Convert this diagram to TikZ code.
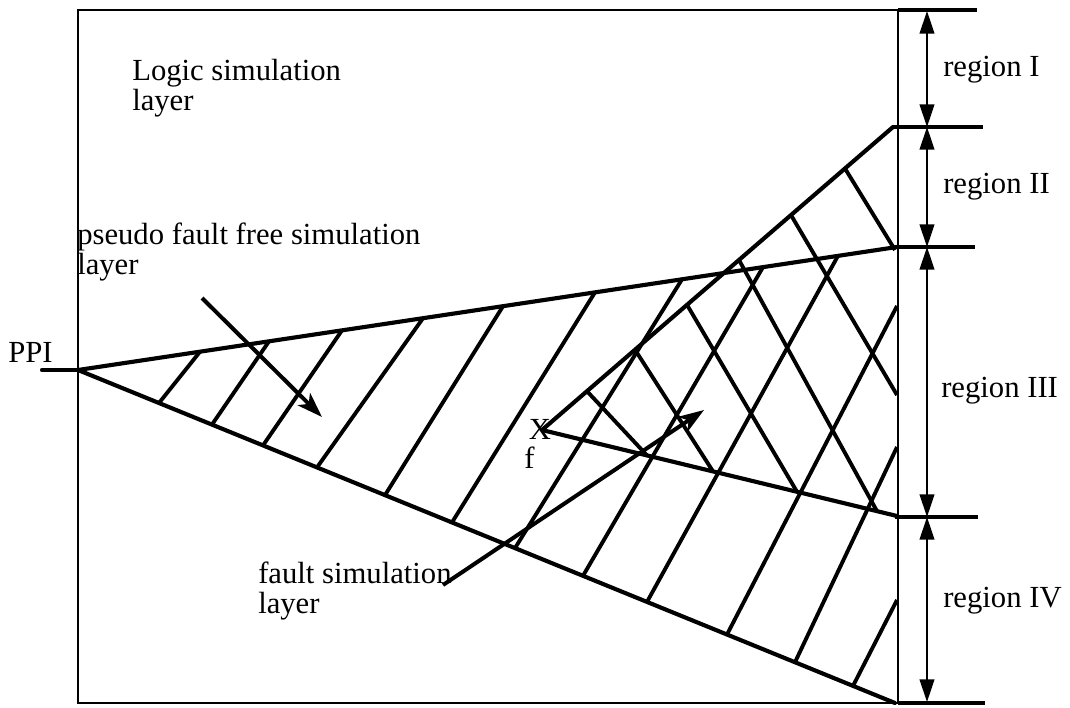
\documentclass[tikz,border=0pt]{standalone}
\usepackage{fontspec}
\setmainfont{Liberation Serif}
\usetikzlibrary{arrows.meta}
\begin{document}
\begin{tikzpicture}[x=0.75pt,y=-0.75pt,
  frame/.style={line width=1.8pt},
  edge/.style={line width=3.1pt, line cap=round, line join=round},
  hatch/.style={line width=2.9pt},
  tickline/.style={line width=3pt},
  dimarrow/.style={line width=1.5pt, {Triangle[length=17pt,width=11pt]}-{Triangle[length=17pt,width=11pt]}},
  pointer/.style={line width=3pt, -{Stealth[length=19pt,width=13pt,inset=5pt]}},
  lbl/.style={font=\fontsize{23pt}{22pt}\selectfont, inner sep=0pt, align=left, anchor=base west}]
\useasboundingbox (0,0) rectangle (1070,707);

% frame
\coordinate (TL) at (78,10);
\coordinate (BL) at (78,703);
\coordinate (TR) at (898,10);
\coordinate (BR) at (898,703);
\coordinate (TT) at (977,10);
\coordinate (BT) at (985,703);
\draw[frame] (TT) -- (TL) -- (BL) -- (BT);
\draw[frame, line width=2.2pt] (TR) -- (BR);

% ticks
\coordinate (t2a) at (893,127); \coordinate (t2b) at (983,127);
\coordinate (t3a) at (890,247); \coordinate (t3b) at (975,247);
\coordinate (t4a) at (895,517); \coordinate (t4b) at (978,517);
\draw[tickline] (t2a) -- (t2b);
\draw[tickline] (t3a) -- (t3b);
\draw[tickline] (t4a) -- (t4b);
\draw[tickline] (898,10) -- (TT);
\draw[tickline] (898,703) -- (BT);

% dimension arrows
\coordinate (d1) at (927,11);
\coordinate (d2) at (927,127);
\coordinate (d3) at (927,247);
\coordinate (d4) at (927,517);
\coordinate (d5) at (927,702);
\draw[dimarrow] (d1) -- (d2);
\draw[dimarrow] (d2) -- (d3);
\draw[dimarrow] (d3) -- (d4);
\draw[dimarrow] (d4) -- (d5);

% main triangle
\coordinate (P) at (78,370);
\coordinate (PPIin) at (42,370);
\coordinate (U) at (897,247);
\coordinate (L) at (895,703);
\draw[edge] (PPIin) -- (P);
\draw[edge] (U) -- (P) -- (L);

% fault triangle
\coordinate (XF) at (542,430);
\coordinate (FU) at (893,127);
\coordinate (FL) at (897,516);
\draw[edge] (FU) -- (XF) -- (FL);

% hatching /
\foreach \a/\b/\c/\d in {159/403.0/200/351.7, 212/424.6/269/341.3, 263/445.4/342/330.3,
  317/467.4/423/318.2, 385/495.1/503/306.2, 452/522.4/595/292.3, 515/548.1/682/279.3,
  583/575.8/763/267.1, 647/601.9/838/255.8, 727/634.5/897/306, 795/662.2/897/447,
  853/685.9/897/600}
  \draw[hatch] (\a,\b) -- (\c,\d);

% hatching \
\foreach \a/\b/\c/\d in {587/391.2/647/455.4, 635/349.7/713/471.4, 687/304.8/797/491.8,
  739/260.0/877/511.2, 791/215.1/897/395, 845/168.5/895/250}
  \draw[hatch] (\a,\b) -- (\c,\d);

% labels (base = baseline of last line)
\node[lbl] (ppi) at (8,362) {PPI};
\node[lbl] (logic) at (132,110) {Logic simulation\\layer};
\node[lbl] (pseudo) at (77,274) {pseudo fault free simulation\\layer};
\node[lbl] (fault) at (258,613) {fault simulation\\layer};
\node[lbl] (r1) at (943,76) {region I};
\node[lbl] (r2) at (943,193) {region II};
\node[lbl] (r3) at (941,397) {region III};
\node[lbl] (r4) at (943,607) {region IV};
\node[font=\fontsize{23pt}{22pt}\selectfont, inner sep=0pt] (X) at (540,429) {X};
\node[lbl] (f) at (524,468) {f};

% pointers
\coordinate (p1s) at (202,298);
\coordinate (p1e) at (322,417);
\coordinate (p2s) at (443,585);
\coordinate (p2e) at (704,410);
\draw[pointer] (p1s) -- (p1e);
\draw[pointer] (p2s) -- (p2e);
\end{tikzpicture}
\end{document}
